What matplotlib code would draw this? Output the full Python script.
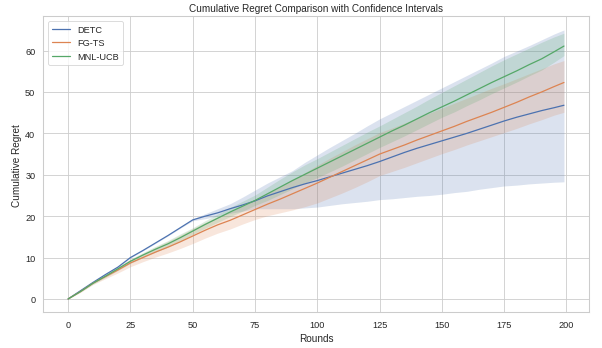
import numpy as np
import matplotlib
matplotlib.use("Agg")
import matplotlib.pyplot as plt
import seaborn as sns

rounds = [0, 5, 10, 15, 20, 25, 30, 35, 40, 45, 50, 55, 60, 65, 70, 75, 80, 85, 90, 95,
          100, 105, 110, 115, 120, 125, 130, 135, 140, 145, 150, 155, 160, 165, 170, 175,
          180, 185, 190, 195, 199]

detc_mean = [0, 2.0, 4.0, 5.9, 7.7, 10.0, 11.7, 13.5, 15.3, 17.2, 19.1, 20.0, 20.8, 21.8, 22.7,
             23.7, 24.9, 25.9, 26.9, 27.8, 28.6, 29.5, 30.4, 31.3, 32.2, 33.2, 34.3, 35.4, 36.4,
             37.3, 38.2, 39.1, 40.0, 41.0, 42.0, 43.0, 43.9, 44.7, 45.5, 46.2, 46.8]
detc_low = [0, 1.9, 3.9, 5.8, 7.6, 9.9, 11.6, 13.4, 15.2, 17.1, 18.9, 19.4, 20.0, 20.7, 21.2,
            21.8, 21.8, 21.8, 21.8, 22.0, 22.2, 22.6, 23.0, 23.3, 23.6, 24.0, 24.2, 24.5, 24.8,
            25.0, 25.3, 25.7, 26.0, 26.5, 26.9, 27.3, 27.5, 27.8, 28.0, 28.2, 28.3]
detc_high = [0, 2.1, 4.1, 6.0, 7.8, 10.1, 11.8, 13.6, 15.4, 17.3, 19.3, 20.6, 21.8, 23.0, 24.6,
             26.3, 28.0, 29.5, 31.0, 33.0, 34.8, 36.6, 38.3, 40.0, 41.8, 43.5, 45.0, 46.5, 48.0,
             49.5, 51.0, 52.5, 54.0, 55.5, 57.0, 58.6, 59.9, 61.2, 62.6, 64.0, 65.0]

fgts_mean = [0, 1.8, 3.8, 5.4, 7.0, 8.7, 10.0, 11.3, 12.5, 13.8, 15.2, 16.6, 17.9, 19.0, 20.3,
             21.6, 22.9, 24.1, 25.4, 26.7, 28.0, 29.4, 30.8, 32.2, 33.6, 35.0, 36.1, 37.2, 38.4,
             39.5, 40.6, 41.7, 42.9, 44.0, 45.1, 46.3, 47.5, 48.8, 50.0, 51.3, 52.3]
fgts_low = [0, 1.6, 3.5, 4.9, 6.3, 7.8, 9.0, 10.1, 11.1, 12.2, 13.4, 14.7, 15.9, 16.9, 18.1,
            19.2, 20.1, 20.8, 21.5, 22.3, 23.2, 24.4, 25.6, 26.9, 28.3, 29.8, 30.8, 31.8, 32.9,
            34.0, 35.1, 36.1, 37.2, 38.2, 39.2, 40.2, 41.2, 42.3, 43.3, 44.4, 45.1]
fgts_high = [0, 2.0, 4.1, 5.9, 7.7, 9.6, 11.0, 12.5, 13.9, 15.4, 17.0, 18.5, 19.9, 21.1, 22.5,
             23.9, 25.5, 27.1, 28.8, 30.5, 32.3, 34.0, 35.6, 37.2, 38.7, 40.2, 41.3, 42.5, 43.7,
             44.9, 46.1, 47.3, 48.5, 49.7, 50.9, 52.0, 53.2, 54.4, 55.6, 56.8, 57.6]

mnl_mean = [0, 1.8, 3.8, 5.5, 7.3, 9.1, 10.6, 12.0, 13.3, 14.8, 16.4, 18.0, 19.5, 21.0, 22.4,
            23.8, 25.4, 27.0, 28.6, 30.1, 31.6, 33.1, 34.6, 36.1, 37.6, 39.1, 40.6, 42.0, 43.5,
            45.0, 46.4, 47.8, 49.3, 50.8, 52.3, 53.7, 55.1, 56.6, 58.0, 59.7, 61.1]
mnl_low = [0, 1.7, 3.6, 5.2, 6.9, 8.6, 10.0, 11.3, 12.5, 13.9, 15.6, 17.1, 18.5, 19.9, 21.2,
           22.6, 23.8, 25.2, 26.6, 28.0, 29.3, 30.7, 32.1, 33.6, 35.1, 36.6, 38.0, 39.4, 40.9,
           42.4, 43.9, 45.2, 46.7, 48.1, 49.6, 51.0, 52.4, 53.9, 55.3, 57.2, 58.8]
mnl_high = [0, 1.9, 4.0, 5.8, 7.7, 9.6, 11.2, 12.7, 14.1, 15.7, 17.2, 18.9, 20.5, 22.1, 23.6,
            25.1, 27.0, 28.9, 30.7, 32.4, 33.9, 35.5, 37.1, 38.7, 40.3, 41.8, 43.4, 45.0, 46.6,
            48.3, 49.9, 51.5, 53.1, 54.7, 56.3, 57.8, 59.2, 60.6, 62.0, 63.3, 64.2]

sns.set_theme(style="whitegrid")
plt.rcParams['font.family'] = ['Liberation Sans', 'DejaVu Sans']

fig, ax = plt.subplots(figsize=(10.0, 5.797), dpi=60.2)
pal = sns.color_palette("deep")

series = [
    ("DETC", detc_mean, detc_low, detc_high, pal[0]),
    ("FG-TS", fgts_mean, fgts_low, fgts_high, pal[1]),
    ("MNL-UCB", mnl_mean, mnl_low, mnl_high, pal[2]),
]
for name, m, lo, hi, c in series:
    ax.plot(rounds, m, color=c, label=name, linewidth=1.5)
    ax.fill_between(rounds, lo, hi, color=c, alpha=0.2, linewidth=0)

ax.set_title("Cumulative Regret Comparison with Confidence Intervals", fontsize=12)
ax.set_xlabel("Rounds", fontsize=12)
ax.set_ylabel("Cumulative Regret", fontsize=12)
ax.tick_params(labelsize=11)
ax.set_xticks([0, 25, 50, 75, 100, 125, 150, 175, 200])
ax.legend(loc="upper left", fontsize=11)

fig.subplots_adjust(left=0.072, right=0.978, top=0.950, bottom=0.102)
fig.savefig("out.png", dpi=60.2)
